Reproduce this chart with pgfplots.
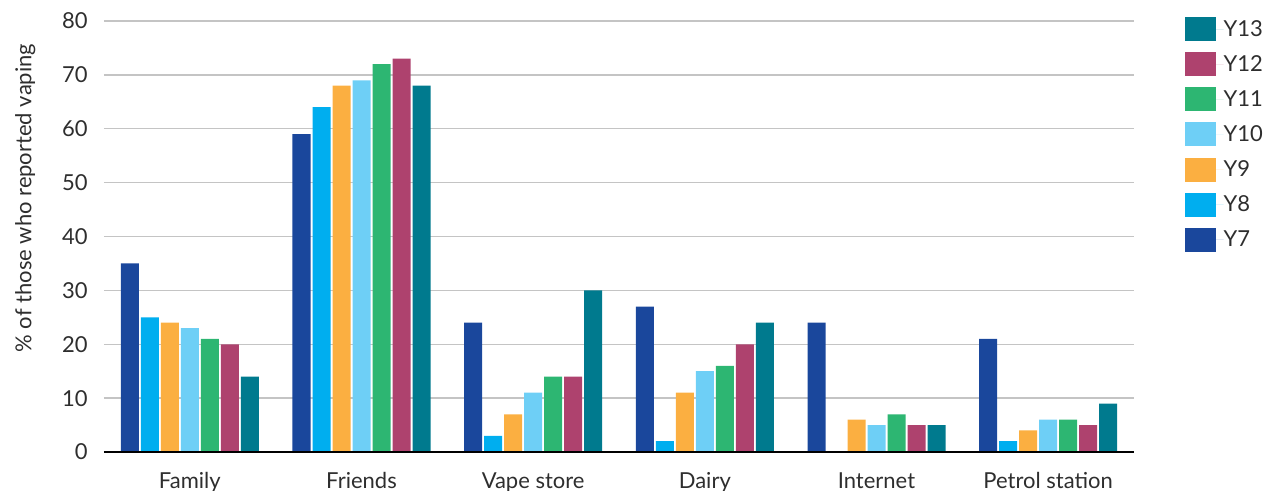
\documentclass[border=0pt]{standalone}
\usepackage{fontspec}
\setmainfont{Lato}
\usepackage{pgfplots}
\pgfplotsset{compat=1.18}

\definecolor{cY7}{HTML}{1A479C}
\definecolor{cY8}{HTML}{00AEEF}
\definecolor{cY9}{HTML}{FBAF41}
\definecolor{cY10}{HTML}{6ECFF6}
\definecolor{cY11}{HTML}{2DB672}
\definecolor{cY12}{HTML}{AE426E}
\definecolor{cY13}{HTML}{007A8E}
\definecolor{txt}{HTML}{2E2E2E}
\definecolor{gridc}{HTML}{C4C4C4}

\newcommand{\lbl}{\fontsize{16.5pt}{19pt}\selectfont}

\begin{document}
\begin{tikzpicture}
\useasboundingbox (-78pt,-28.5pt) rectangle (877.5pt,339pt);
\begin{axis}[
  at={(0,0)}, anchor=south west,
  scale only axis,
  width=772.5pt, height=323.25pt,
  ybar=1.5pt, bar width=13.5pt,
  xmin=-0.5, xmax=5.5,
  ymin=0, ymax=80,
  ytick={0,10,...,80},
  xtick={0,...,5},
  xticklabels={Family,Friends,Vape store,Dairy,Internet,Petrol station},
  /pgf/number format/assume math mode=true,
  axis line style={draw=none},
  major tick length=0pt,
  ymajorgrids,
  grid style={gridc, line width=1pt},
  yticklabel style={anchor=east, inner sep=0pt, xshift=-12pt, text=txt, font=\lbl},
  xticklabel style={anchor=north, inner sep=0pt, yshift=-15pt, text=txt, font=\lbl},
  ylabel={\% of those who reported vaping},
  ylabel style={at={(rel axis cs:0,0.589)}, anchor=center, yshift=59pt, text=txt, font=\lbl},
  reverse legend,
  legend cell align=left,
  legend style={at={(rel axis cs:1,1)}, anchor=north west, xshift=38pt, yshift=3pt,
    draw=none, fill=none, inner sep=0pt, row sep=8.3pt,
    font=\lbl, text=txt,
    nodes={inner sep=0pt}},
  legend image code/.code={\fill[#1] (0pt,-9pt) rectangle (23pt,9pt); \path (23pt,0) -- (29pt,0);},
  every axis plot/.append style={draw=none},
  clip=false,
]
\addplot[fill=cY7]  coordinates {(0,35) (1,59) (2,24) (3,27) (4,24) (5,21)};
\addplot[fill=cY8]  coordinates {(0,25) (1,64) (2,3)  (3,2)  (4,0)  (5,2)};
\addplot[fill=cY9]  coordinates {(0,24) (1,68) (2,7)  (3,11) (4,6)  (5,4)};
\addplot[fill=cY10] coordinates {(0,23) (1,69) (2,11) (3,15) (4,5)  (5,6)};
\addplot[fill=cY11] coordinates {(0,21) (1,72) (2,14) (3,16) (4,7)  (5,6)};
\addplot[fill=cY12] coordinates {(0,20) (1,73) (2,14) (3,20) (4,5)  (5,5)};
\addplot[fill=cY13] coordinates {(0,14) (1,68) (2,30) (3,24) (4,5)  (5,9)};
\legend{Y7,Y8,Y9,Y10,Y11,Y12,Y13}
\draw[black, line width=1.5pt] (rel axis cs:0,0) -- (rel axis cs:1,0);
\end{axis}
\end{tikzpicture}
\end{document}
